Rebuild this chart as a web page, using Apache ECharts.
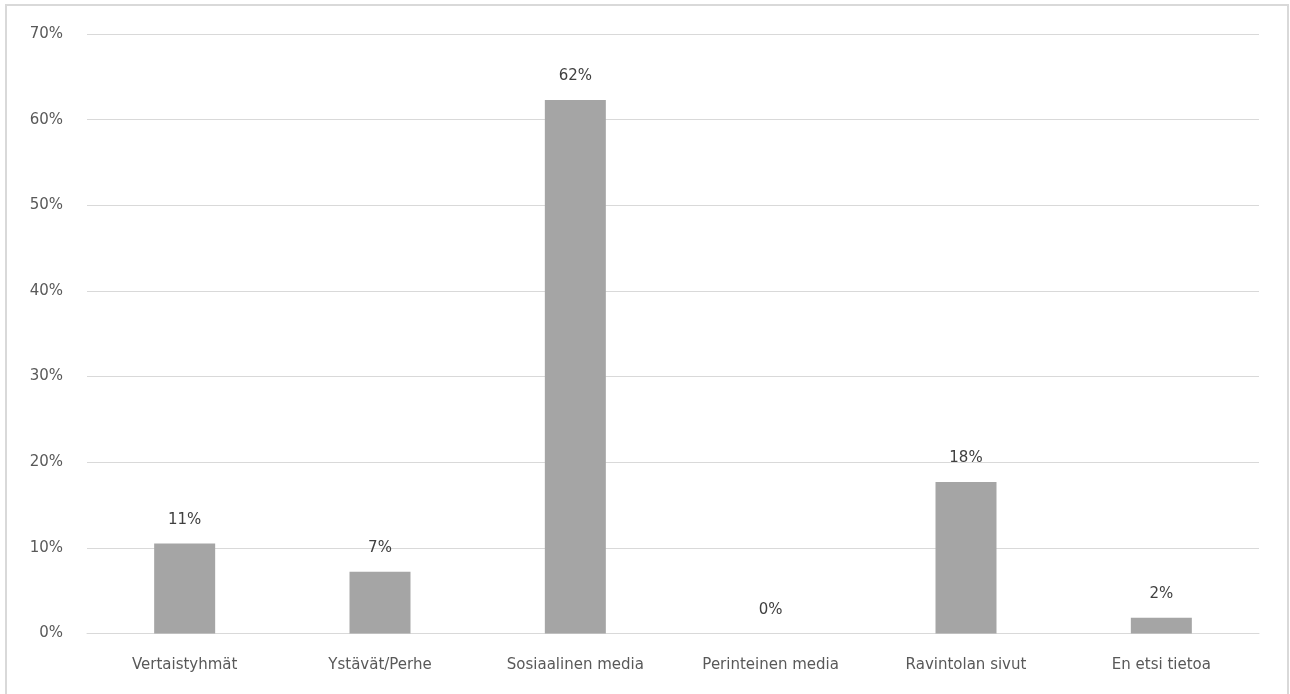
<!DOCTYPE html>
<html>
<head>
<meta charset="utf-8">
<script src="https://cdn.jsdelivr.net/npm/echarts@6/dist/echarts.min.js"></script>
<style>
  html, body { margin: 0; padding: 0; background: #fff; }
  #chart { width: 1290px; height: 694px; }
</style>
</head>
<body>
<div id="chart"></div>
<script>
    'use strict';

    // lähteet ja osuudet (%)
    var categories = ['Vertaistyhmät', 'Ystävät/Perhe', 'Sosiaalinen media', 'Perinteinen media', 'Ravintolan sivut', 'En etsi tietoa'];
    var values = [10.5, 7.2, 62.3, 0, 17.7, 1.85];
    var yTicks = [0, 10, 20, 30, 40, 50, 60, 70];

    var font = '"DejaVu Sans", "Liberation Sans", sans-serif';

    var myChart = echarts.init(document.getElementById('chart'));
    var option = {
        animation: false,
        backgroundColor: '#fff',
        graphic: [{
            type: 'rect',
            shape: { x: 6, y: 5, width: 1282, height: 700 },
            style: { fill: 'none', stroke: '#d9d9d9', lineWidth: 2 },
            silent: true
        }],
        grid: { left: 87, right: 31, top: 34, bottom: 60.5 },
        xAxis: {
            type: 'category',
            data: categories,
            axisLine: { lineStyle: { color: '#d9d9d9', width: 1 } },
            axisTick: { show: false },
            axisLabel: { color: '#595959', fontSize: 15, fontFamily: font, margin: 24 }
        },
        yAxis: {
            type: 'value',
            min: yTicks[0],
            max: yTicks[yTicks.length - 1],
            interval: 10,
            axisLine: { show: false },
            axisTick: { show: false },
            splitLine: { lineStyle: { color: '#d9d9d9', width: 1 } },
            axisLabel: {
                color: '#595959', fontSize: 15, fontFamily: font, margin: 24,
                formatter: function (v) { return v + '%'; }
            }
        },
        series: [{
            type: 'bar',
            data: values,
            barWidth: 61,
            itemStyle: { color: '#a5a5a5' },
            label: {
                show: true,
                position: 'top',
                distance: 16,
                color: '#404040',
                fontSize: 15,
                fontFamily: font,
                formatter: function (p) { return Math.round(p.value) + '%'; }
            }
        }]
    };
    myChart.setOption(option);
</script>
</body>
</html>
